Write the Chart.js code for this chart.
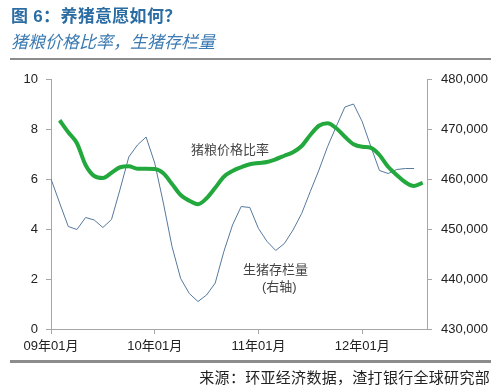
<!DOCTYPE html>
<html>
<head>
<meta charset="utf-8">
<script src="https://cdn.jsdelivr.net/npm/chart.js@4.4.1/dist/chart.umd.min.js"></script>
<style>
    html, body { margin: 0; padding: 0; background: #fff; }
    #wrap { position: relative; width: 500px; height: 392px; overflow: hidden;
            font-family: "Liberation Sans", "Noto Sans CJK SC", sans-serif; }
    #chart { position: absolute; left: 0; top: 0; }
    .txt { position: absolute; white-space: nowrap; }
    .title { left: 11px; top: 2px; font-size: 17px; font-weight: bold; color: #2b6ca3; letter-spacing: 0.3px; }
    .sub { left: 11px; top: 28px; font-size: 17px; font-style: italic; color: #3c7ab2; }
    .rule { position: absolute; left: 10px; width: 481px; background: #8c8c8c; }
    .note { font-size: 13px; color: #444; }
    .src { right: 10px; top: 366px; font-size: 15px; color: #222; letter-spacing: 0.3px; }
</style>
</head>
<body>
<div id="wrap">
    <canvas id="chart" width="500" height="392"></canvas>
    <div class="txt title">图 6：养猪意愿如何？</div>
    <div class="txt sub">猪粮价格比率，生猪存栏量</div>
    <div class="rule" style="top:58px;height:2px;"></div>
    <div class="txt note" style="left:191px;top:139px;">猪粮价格比率</div>
    <div class="txt note" style="left:243px;top:259px;">生猪存栏量</div>
    <div class="txt note" style="left:262px;top:276px;">(右轴)</div>
    <div class="rule" style="top:360px;height:3px;"></div>
    <div class="txt src">来源：环亚经济数据，渣打银行全球研究部</div>
</div>
<script>
// 月份: 0 = 2009-01 ... 43 = 2012-08
const months = [
    '09-01','09-02','09-03','09-04','09-05','09-06','09-07','09-08','09-09','09-10','09-11','09-12',
    '10-01','10-02','10-03','10-04','10-05','10-06','10-07','10-08','10-09','10-10','10-11','10-12',
    '11-01','11-02','11-03','11-04','11-05','11-06','11-07','11-08','11-09','11-10','11-11','11-12',
    '12-01','12-02','12-03','12-04','12-05','12-06','12-07','12-08'
];

// 猪粮价格比率 (左轴)
const hogGrainRatio = [
    null, 8.35, 7.87, 7.43, 6.56, 6.12, 6.04, 6.25, 6.47, 6.51, 6.41, 6.41,
    6.40, 6.23, 5.80, 5.36, 5.13, 4.99, 5.23, 5.65, 6.09, 6.32, 6.47, 6.59,
    6.64, 6.68, 6.79, 6.93, 7.07, 7.32, 7.76, 8.13, 8.23, 8.03, 7.69, 7.39,
    7.29, 7.25, 6.96, 6.49, 6.16, 5.87, 5.72, 5.85
];

// 生猪存栏量 (右轴)
const hogInventory = [
    460000, 455200, 450500, 449900, 452300, 451800, 450300, 451900, 458000, 464400, 466800, 468400,
    463200, 455200, 446500, 440100, 437100, 435500, 436800, 439200, 445500, 450800, 454500, 454300,
    450100, 447500, 445700, 447100, 449800, 453100, 457500, 461800, 466500, 470500, 474400, 475000,
    471500, 466500, 461700, 461100, 461900, 462100, 462100, null
];

const xTickMonths = [0, 12, 24, 36];
const xTickLabels = ['09年01月', '10年01月', '11年01月', '12年01月'];

const toPoints = (arr) => arr.map((v, i) => ({ x: i, y: v })).filter(p => p.y !== null);

const axisColor = '#a6a6a6';
const tickFont = { family: '"Liberation Sans", "Noto Sans CJK SC", sans-serif', size: 13 };

new Chart(document.getElementById('chart').getContext('2d'), {
    type: 'line',
    data: {
        datasets: [
            {
                label: '猪粮价格比率',
                data: toPoints(hogGrainRatio),
                yAxisID: 'y',
                borderColor: '#22a83c',
                borderWidth: 4,
                pointRadius: 0,
                tension: 0.4,
                cubicInterpolationMode: 'monotone',
                fill: false,
            },
            {
                label: '生猪存栏量',
                data: toPoints(hogInventory),
                yAxisID: 'y2',
                borderColor: '#56799c',
                borderWidth: 1,
                pointRadius: 0,
                tension: 0,
                fill: false,
            },
        ],
    },
    options: {
        responsive: false,
        animation: false,
        layout: { padding: { top: 79, left: 0, right: 0, bottom: 0 } },
        plugins: {
            legend: { display: false },
            tooltip: { enabled: false },
        },
        scales: {
            x: {
                type: 'linear',
                min: 0,
                max: 43.5,
                afterBuildTicks: (s) => { s.ticks = xTickMonths.map(v => ({ value: v })); },
                afterFit: (s) => { s.height = 63; },
                grid: { drawOnChartArea: false, drawTicks: true, tickLength: 5, color: axisColor },
                border: { color: axisColor },
                ticks: {
                    font: tickFont,
                    color: '#222',
                    padding: 5,
                    maxRotation: 0,
                    callback: (v) => xTickLabels[xTickMonths.indexOf(v)],
                },
            },
            y: {
                position: 'left',
                min: 0,
                max: 10,
                afterFit: (s) => { s.width = 51; },
                grid: { drawOnChartArea: false, drawTicks: true, tickLength: 5, color: axisColor },
                border: { color: axisColor },
                ticks: { stepSize: 2, font: tickFont, color: '#222', padding: 8 },
            },
            y2: {
                position: 'right',
                min: 430000,
                max: 480000,
                afterFit: (s) => { s.width = 73; },
                grid: { drawOnChartArea: false, drawTicks: true, tickLength: 5, color: axisColor },
                border: { color: axisColor },
                ticks: {
                    stepSize: 10000,
                    font: tickFont,
                    color: '#222',
                    padding: 9,
                    callback: (v) => v.toLocaleString('en-US'),
                },
            },
        },
    },
});
</script>
</body>
</html>
